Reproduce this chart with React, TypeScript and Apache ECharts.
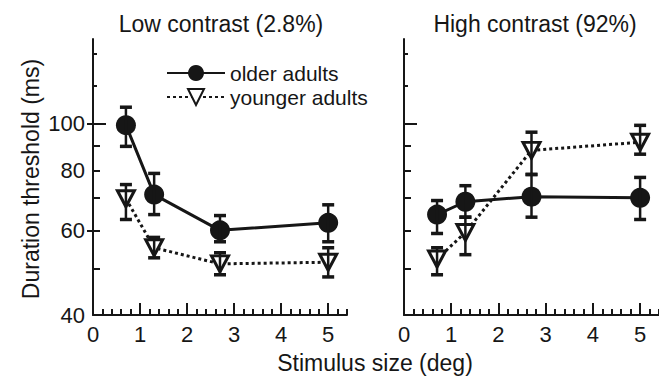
import React, { useEffect, useRef } from "react";
import * as echarts from "echarts";

// Stimulus sizes (deg)
const sizes = [0.7, 1.3, 2.7, 5.0];

// Low contrast (2.8%)
const lowOlder = [99.3, 71.2, 60.0, 62.2];
const lowOlderLo = [89.7, 64.7, 56.8, 56.8];
const lowOlderHi = [108.2, 78.8, 64.4, 67.8];
const lowYounger = [69.8, 55.2, 51.1, 51.5];
const lowYoungerLo = [63.2, 52.6, 48.5, 48.0];
const lowYoungerHi = [74.7, 58.0, 53.9, 55.2];

// High contrast (92%)
const highOlder = [64.7, 68.8, 70.5, 70.1];
const highOlderLo = [59.1, 63.9, 63.9, 63.2];
const highOlderHi = [69.2, 74.3, 78.4, 77.3];
const highYounger = [52.3, 59.4, 88.0, 91.5];
const highYoungerLo = [48.5, 53.4, 78.4, 86.4];
const highYoungerHi = [55.2, 63.9, 96.0, 99.2];

// Axis ticks
const yLabelTicks = [40, 60, 80, 100];
const yMidTicks = [50, 60, 70, 80, 90];
const yLongTicks = [100];
const ySmallTicks = [120, 140];
const yOuterTicks = [60, 100];
const xMajorTicks = [0, 1, 2, 3, 4, 5];
const xMinorTicks = [
  0.2, 0.4, 0.6, 0.8, 1.2, 1.4, 1.6, 1.8, 2.2, 2.4, 2.6, 2.8, 3.2, 3.4, 3.6, 3.8,
  4.2, 4.4, 4.6, 4.8, 5.2, 5.4,
];
const yMin = 40;
const yMax = 150;
const xMax = 5.4;

const INK = "#161616";
const FONT = "'Liberation Sans', Arial, Helvetica, sans-serif";

const L = Math.log;

export default function App() {
  const ref = useRef<HTMLDivElement>(null);

  useEffect(() => {
    document.body.style.margin = "0";
    if (!ref.current) return;
    const chart = echarts.init(ref.current, null, { renderer: "svg" });

    const grids = [
      { left: 93, top: 39, width: 254, height: 276 },
      { left: 404, top: 39, width: 256, height: 276 },
    ];

    const xAxes: any[] = [];
    const yAxes: any[] = [];
    grids.forEach((_, gi) => {
      xAxes.push({
        type: "value",
        gridIndex: gi,
        position: "bottom",
        min: 0,
        max: xMax,
        splitLine: { show: false },
        axisLine: { show: true, onZero: false, lineStyle: { color: INK, width: 2 } },
        axisTick: {
          show: true,
          inside: true,
          length: 12,
          customValues: xMajorTicks,
          lineStyle: { color: INK, width: 2 },
        },
        axisLabel: {
          show: true,
          customValues: xMajorTicks,
          margin: 8,
          fontSize: 22,
          fontFamily: FONT,
          color: INK,
        },
      });
      xAxes.push({
        type: "value",
        gridIndex: gi,
        position: "bottom",
        min: 0,
        max: xMax,
        splitLine: { show: false },
        axisLine: { show: false, onZero: false },
        axisTick: {
          show: true,
          inside: true,
          length: 6,
          customValues: xMinorTicks,
          lineStyle: { color: INK, width: 2 },
        },
        axisLabel: { show: false },
      });
      const yBase = {
        type: "value",
        gridIndex: gi,
        position: "left",
        min: L(yMin),
        max: L(yMax),
        splitLine: { show: false },
      };
      yAxes.push({
        ...yBase,
        axisLine: { show: true, onZero: false, lineStyle: { color: INK, width: 2 } },
        axisTick: {
          show: true,
          inside: true,
          length: 13,
          customValues: yLongTicks.map(L),
          lineStyle: { color: INK, width: 2 },
        },
        axisLabel: {
          show: gi === 0,
          customValues: yLabelTicks.map(L),
          formatter: (v: number) => String(Math.round(Math.exp(v))),
          margin: 8,
          fontSize: 22,
          fontFamily: FONT,
          color: INK,
        },
      });
      yAxes.push({
        ...yBase,
        axisLine: { show: false, onZero: false },
        axisTick: {
          show: true,
          inside: true,
          length: 7,
          customValues: yMidTicks.map(L),
          lineStyle: { color: INK, width: 2 },
        },
        axisLabel: { show: false },
      });
      yAxes.push({
        ...yBase,
        axisLine: { show: false, onZero: false },
        axisTick: {
          show: true,
          inside: true,
          length: 4,
          customValues: ySmallTicks.map(L),
          lineStyle: { color: INK, width: 2 },
        },
        axisLabel: { show: false },
      });
      if (gi === 0) {
        yAxes.push({
          ...yBase,
          axisLine: { show: false, onZero: false },
          axisTick: {
            show: true,
            inside: false,
            length: 6,
            customValues: yOuterTicks.map(L),
            lineStyle: { color: INK, width: 2 },
          },
          axisLabel: { show: false },
        });
      }
    });

    const xIdx = [0, 2];
    const yIdx = [0, 4];

    const pts = (vals: number[]) => sizes.map((x, i) => [x, L(vals[i])]);
    const errs = (lo: number[], hi: number[]) =>
      sizes.map((x, i) => [x, L(lo[i]), L(hi[i])]);

    const olderSeries = (gi: number, vals: number[]) => ({
      type: "line",
      name: "older adults",
      xAxisIndex: xIdx[gi],
      yAxisIndex: yIdx[gi],
      data: pts(vals),
      symbol: "circle",
      symbolSize: 20,
      itemStyle: { color: INK, borderWidth: 0 },
      lineStyle: { color: INK, width: 3 },
      z: 3,
    });
    const youngerSeries = (gi: number, vals: number[]) => ({
      type: "line",
      name: "younger adults",
      xAxisIndex: xIdx[gi],
      yAxisIndex: yIdx[gi],
      data: pts(vals),
      symbol: "triangle",
      symbolRotate: 180,
      symbolSize: [17, 16],
      itemStyle: { color: "#ffffff", borderColor: INK, borderWidth: 3 },
      lineStyle: { color: INK, width: 3, type: [3, 3] },
      z: 2,
    });
    const errSeries = (gi: number, lo: number[], hi: number[]) => ({
      type: "custom",
      name: "err",
      xAxisIndex: xIdx[gi],
      yAxisIndex: yIdx[gi],
      data: errs(lo, hi),
      encode: { x: 0, y: [1, 2] },
      z: 4,
      renderItem: (_p: any, api: any) => {
        const x = api.value(0);
        const a = api.coord([x, api.value(1)]);
        const b = api.coord([x, api.value(2)]);
        const hw = 6;
        return {
          type: "group",
          children: [
            {
              type: "line",
              shape: { x1: a[0], y1: a[1], x2: b[0], y2: b[1] },
              style: { stroke: INK, lineWidth: 2.5 },
            },
            {
              type: "line",
              shape: { x1: a[0] - hw, y1: a[1], x2: a[0] + hw, y2: a[1] },
              style: { stroke: INK, lineWidth: 3.5 },
            },
            {
              type: "line",
              shape: { x1: b[0] - hw, y1: b[1], x2: b[0] + hw, y2: b[1] },
              style: { stroke: INK, lineWidth: 3.5 },
            },
          ],
        };
      },
    });

    const titleStyle = (text: string) => ({
      text,
      font: `23px ${FONT}`,
      fill: INK,
      align: "center",
      verticalAlign: "middle",
    });

    chart.setOption({
      animation: false,
      textStyle: { fontFamily: FONT },
      grid: grids,
      xAxis: xAxes,
      yAxis: yAxes,
      legend: {
        data: ["older adults", "younger adults"],
        orient: "vertical",
        left: 166,
        top: 61,
        padding: 0,
        itemWidth: 58,
        itemHeight: 20,
        itemGap: 0,
        textStyle: {
          fontSize: 21,
          lineHeight: 24,
          fontFamily: FONT,
          color: INK,
        },
      },
      graphic: [
        { type: "text", x: 221, y: 24, style: titleStyle("Low contrast (2.8%)") },
        { type: "text", x: 535, y: 24, style: titleStyle("High contrast (92%)") },
        { type: "text", x: 375, y: 363, style: titleStyle("Stimulus size (deg)") },
        {
          type: "text",
          x: 31,
          y: 179,
          rotation: Math.PI / 2,
          style: titleStyle("Duration threshold (ms)"),
        },
      ],
      series: [
        youngerSeries(0, lowYounger),
        olderSeries(0, lowOlder),
        errSeries(0, lowYoungerLo, lowYoungerHi),
        errSeries(0, lowOlderLo, lowOlderHi),
        youngerSeries(1, highYounger),
        olderSeries(1, highOlder),
        errSeries(1, highYoungerLo, highYoungerHi),
        errSeries(1, highOlderLo, highOlderHi),
      ],
    });

    return () => chart.dispose();
  }, []);

  return <div ref={ref} style={{ width: 659, height: 378 }} />;
}
